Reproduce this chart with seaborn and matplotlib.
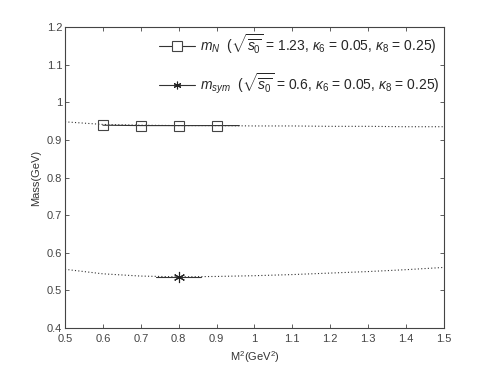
import matplotlib
matplotlib.use("Agg")
import matplotlib.pyplot as plt
import seaborn as sns
import pandas as pd
import numpy as np

# Fit curves (dotted)
m2_curve = [0.5, 0.6, 0.7, 0.8, 0.9, 1.0, 1.1, 1.2, 1.3, 1.4, 1.5]
mN_curve = [0.948, 0.941, 0.939, 0.938, 0.938, 0.937, 0.937, 0.936, 0.936, 0.935, 0.935]
msym_curve = [0.556, 0.544, 0.538, 0.536, 0.537, 0.539, 0.542, 0.546, 0.550, 0.555, 0.561]

# Working window (solid) and markers
mN_win_x = [0.6, 0.7, 0.8, 0.9, 0.96]
mN_win_y = [0.939, 0.938, 0.938, 0.938, 0.938]
mN_mark_x = [0.6, 0.7, 0.8, 0.9]
mN_mark_y = [0.939, 0.938, 0.938, 0.938]
msym_win_x = [0.74, 0.8, 0.86]
msym_win_y = [0.536, 0.536, 0.536]
msym_mark_x = [0.8]
msym_mark_y = [0.535]

label_N = r'$m_N$  ($\sqrt{\overline{s_0}}$ = 1.23, $\kappa_6$ = 0.05, $\kappa_8$ = 0.25)'
label_sym = r'$m_{sym}$  ($\sqrt{\overline{s_0}}$ = 0.6, $\kappa_6$ = 0.05, $\kappa_8$ = 0.25)'

sns.set_theme(style="white")
plt.rcParams['font.family'] = ['Liberation Sans', 'DejaVu Sans']
plt.rcParams['mathtext.fontset'] = 'custom'
plt.rcParams['mathtext.it'] = 'Liberation Sans:italic'
plt.rcParams['mathtext.rm'] = 'Liberation Sans'

fig = plt.figure(figsize=(4.91, 3.68), dpi=100)
ax = fig.add_axes([0.1324, 0.1087, 0.904 - 0.1324, 0.9266 - 0.1087])

dc = pd.DataFrame({'x': m2_curve, 'n': mN_curve, 's': msym_curve})
sns.lineplot(data=dc, x='x', y='n', ax=ax, color='#333333', lw=0.8, linestyle=(0, (1, 2)))
sns.lineplot(data=dc, x='x', y='s', ax=ax, color='#333333', lw=0.8, linestyle=(0, (1, 2)))

sns.lineplot(x=mN_win_x, y=mN_win_y, ax=ax, color='#333333', lw=0.8)
sns.lineplot(x=msym_win_x, y=msym_win_y, ax=ax, color='#333333', lw=0.8)
ax.plot(mN_mark_x, mN_mark_y, ls='none', marker='s', ms=7.5, mfc='none', mec='#444444', mew=0.8)
ax.plot(msym_mark_x, msym_mark_y, ls='none', marker=(6, 2, 0), ms=8, mec='#222222', mew=0.8)

hN, = ax.plot([], [], color='#333333', lw=0.8, marker='s', ms=7.5, mfc='white', mec='#444444', mew=0.8, label=label_N)
hS, = ax.plot([], [], color='#333333', lw=0.8, marker=(6, 2, 0), ms=5.5, mec='#222222', mew=0.8, label=label_sym)
leg = ax.legend(handles=[hN, hS], loc='upper right', frameon=False, fontsize=10,
                handlelength=2.6, labelspacing=1.1, numpoints=1, borderaxespad=0.0,
                handletextpad=0.4, bbox_to_anchor=(1.005, 1.0))

ax.set_xlim(0.5, 1.5)
ax.set_ylim(0.4, 1.2)
ax.set_xticks(np.arange(0.5, 1.51, 0.1))
ax.set_xticklabels(['0.5', '0.6', '0.7', '0.8', '0.9', '1', '1.1', '1.2', '1.3', '1.4', '1.5'])
ax.set_yticks(np.arange(0.4, 1.21, 0.1))
ax.set_yticklabels(['0.4', '0.5', '0.6', '0.7', '0.8', '0.9', '1', '1.1', '1.2'])
ax.tick_params(direction='in', top=True, right=True, length=3, width=0.6, colors='#444444',
               labelsize=8, bottom=True, left=True)
ax.tick_params(axis='x', pad=4)
ax.tick_params(axis='y', pad=2)
for s in ax.spines.values():
    s.set_color('#444444')
    s.set_linewidth(0.8)
ax.set_xlabel(r'M$^2$(GeV$^2$)', fontsize=8, color='#333333', labelpad=4)
ax.set_ylabel('Mass(GeV)', fontsize=8, color='#333333', labelpad=4)

fig.savefig('out.png', dpi=100)
